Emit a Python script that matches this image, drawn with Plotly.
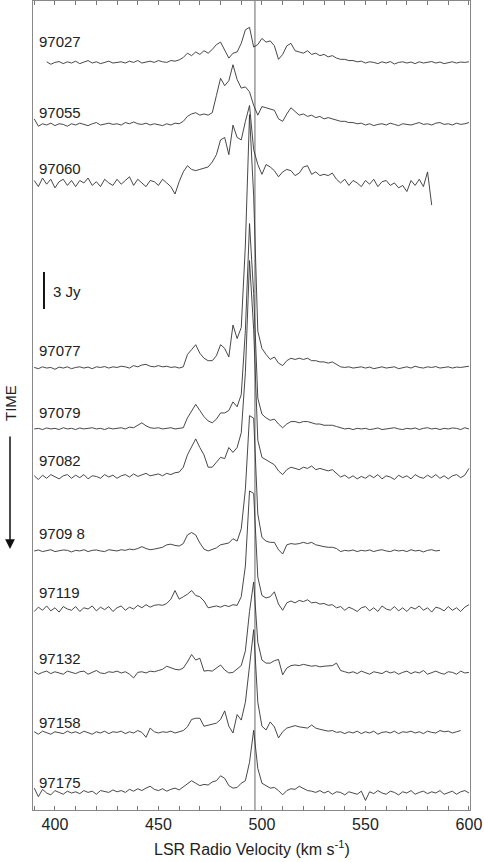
import plotly.graph_objects as go

# Velocity grid (km/s), 2 km/s steps
velocity = list(range(390, 601, 2))

epochs = ["97027", "97055", "97060", "97077", "97079", "97082",
          "9709 8", "97119", "97132", "97158", "97175"]

# Flux density above each spectrum's own baseline (Jy); None = no data
s97027 = [None, None, None, 0.1, -0.1, 0.05, 0.12, -0.05, 0.1, 0.0,
          0.15, -0.05, 0.1, 0.2, 0.0, 0.1, -0.05, 0.05, 0.15, 0.0,
          0.05, 0.1, 0.0, 0.15, 0.05, 0.2, 0.0, 0.1, 0.15, 0.05,
          0.2, 0.1, 0.05, 0.2, 0.15, 0.25, 0.45, 0.8, 0.6, 0.9,
          0.7, 1.0, 0.8, 1.1, 1.5, 1.7, 1.0, 0.4, 0.8, 0.9,
          1.6, 2.7, 2.9, 1.3, 1.5, 2.0, 1.7, 1.8, 1.4, 0.3,
          0.7, 1.4, 1.6, 1.0, 0.9, 0.8, 1.0, 0.7, 0.8, 0.6,
          0.7, 0.5, 0.6, 0.4, 0.3, 0.3, 0.2, 0.2, 0.1, 0.15,
          0.0, 0.1, 0.05, -0.05, 0.1, 0.0, 0.12, -0.08, 0.05, 0.1,
          0.0, 0.08, -0.05, 0.1, 0.0, 0.05, 0.12, 0.0, 0.08, -0.05,
          0.05, 0.1, 0.0, 0.08, 0.05, 0.1]
s97055 = [0.5, -0.1, 0.1, 0.0, 0.15, -0.05, 0.1, 0.05, -0.1, 0.1,
          0.0, 0.15, 0.05, -0.05, 0.1, 0.2, 0.0, 0.1, 0.15, 0.05,
          0.1, 0.0, 0.2, 0.1, 0.25, 0.1, 0.05, 0.15, 0.0, 0.1,
          0.05, -0.05, 0.1, 0.0, 0.15, 0.1, 0.3, 0.7, 0.9, 1.0,
          0.8, 0.9, 0.8, 1.0, 2.4, 3.8, 3.2, 3.6, 4.9, 3.7,
          3.0, 3.1, 2.7, 1.6, 0.8, 1.5, 1.4, 1.3, 1.2, 0.5,
          0.3, 0.9, 1.4, 1.1, 0.8, 0.9, 0.7, 0.8, 0.6, 0.7,
          0.5, 0.6, 0.5, 0.4, 0.3, 0.3, 0.2, 0.2, 0.1, 0.15,
          0.0, 0.1, -0.05, 0.05, 0.1, 0.0, 0.15, 0.05, -0.05, 0.1,
          0.05, 0.0, 0.1, 0.2, 0.05, 0.1, 0.0, 0.15, 0.2, 0.05,
          0.1, 0.0, 0.15, 0.05, 0.1, 0.2]
s97060 = [0.2, -0.3, 0.4, -0.1, 0.3, -0.4, 0.1, 0.3, -0.2, 0.2,
          -0.3, 0.2, 0.0, 0.4, -0.2, 0.1, -0.3, 0.3, 0.0, -0.2,
          0.3, -0.1, 0.2, 0.5, -0.2, 0.3, 0.0, -0.3, 0.2, 0.1,
          -0.2, 0.3, 0.0, -0.3, -0.9, 0.1, 0.9, 1.4, 1.1, 1.0,
          1.1, 1.2, 1.3, 1.7, 2.3, 3.5, 3.7, 2.3, 4.7, 3.7,
          3.5, 5.0, 6.3, 2.7, 1.5, 0.7, 1.5, 1.3, 1.0, 0.5,
          0.9, 1.1, 1.0, 0.6, 0.8, 1.3, 1.4, 0.7, 0.9, 0.6,
          0.7, 0.6, 0.8, 0.3, 0.0, 0.3, -0.2, 0.2, 0.0, -0.3,
          0.2, -0.1, 0.3, -0.3, 0.1, 0.2, -0.2, 0.0, -0.4, -0.2,
          -0.7, 0.2, -0.2, 0.3, -0.3, 0.9, -1.8, None, None, None,
          None, None, None, None, None, None]
s97077 = [0.05, -0.05, 0.1, 0.0, 0.05, -0.1, 0.08, 0.0, 0.1, -0.05,
          0.05, 0.1, 0.0, 0.08, -0.05, 0.1, 0.05, 0.12, 0.0, 0.1,
          0.05, 0.15, 0.1, 0.0, 0.2, 0.1, 0.25, 0.3, 0.15, 0.1,
          0.2, 0.1, 0.15, 0.05, 0.1, 0.0, 0.1, 1.1, 1.5, 1.9,
          1.2, 0.8, 0.6, 0.6, 1.0, 1.9, 1.6, 0.9, 3.5, 2.4,
          3.3, 10.0, 20.6, 14.0, 3.0, 1.6, 1.1, 0.7, 0.9, 0.4,
          0.2, 0.6, 0.8, 0.7, 0.8, 0.7, 0.8, 0.6, 0.6, 0.5,
          0.5, 0.4, 0.5, 0.3, 0.1, 0.05, 0.1, 0.0, 0.05, 0.1,
          0.0, 0.08, -0.05, 0.05, 0.1, 0.0, 0.05, 0.1, -0.05, 0.05,
          0.1, 0.0, 0.15, 0.05, 0.0, 0.1, 0.05, 0.12, 0.0, 0.05,
          0.1, 0.0, 0.08, 0.05, 0.1, 0.15]
s97079 = [0.0, 0.05, -0.05, 0.08, 0.0, 0.05, -0.05, 0.1, 0.0, 0.05,
          -0.05, 0.08, 0.0, 0.05, 0.1, 0.0, 0.05, -0.05, 0.08, 0.0,
          0.05, 0.1, 0.0, 0.15, 0.1, 0.3, 0.5, 0.25, 0.1, 0.05,
          0.1, 0.0, 0.05, 0.1, 0.0, 0.05, 0.1, 0.9, 1.5, 2.0,
          1.5, 1.0, 0.65, 0.5, 0.8, 1.3, 1.3, 1.5, 2.2, 1.8,
          2.8, 8.0, 16.7, 11.0, 2.5, 1.2, 0.9, 0.7, 0.8, 0.4,
          0.1, 0.4, 0.6, 0.6, 0.5, 0.6, 0.6, 0.5, 0.4, 0.4,
          0.3, 0.3, 0.3, 0.2, 0.1, 0.0, 0.05, -0.05, 0.05, 0.0,
          0.05, -0.05, 0.0, 0.08, -0.05, 0.0, 0.05, 0.1, 0.0, -0.05,
          0.05, 0.0, 0.08, -0.05, 0.05, 0.1, 0.0, 0.05, -0.05, 0.05,
          0.0, 0.08, 0.05, -0.05, 0.1, 0.0]
s97082 = [0.1, -0.2, 0.15, -0.1, 0.2, 0.0, -0.15, 0.1, 0.2, -0.1,
          0.15, -0.05, 0.2, -0.15, 0.1, 0.05, -0.1, 0.2, 0.0, 0.15,
          -0.1, 0.1, 0.2, 0.0, 0.25, 0.05, 0.15, 0.3, 0.1, 0.2,
          0.25, 0.1, 0.3, 0.2, 0.35, 0.4, 0.8, 1.8, 2.4, 3.1,
          2.4, 1.8, 0.8, 0.8, 1.2, 1.6, 1.5, 2.4, 2.0, 2.4,
          3.6, 8.5, 17.6, 12.0, 3.0, 1.6, 1.4, 1.2, 1.0, 0.5,
          0.2, 0.6, 0.8, 0.7, 0.6, 0.8, 0.7, 0.9, 0.6, 0.7,
          0.6, 0.5, 0.6, 0.3, 0.0, 0.15, -0.1, 0.1, -0.15, 0.05,
          -0.1, 0.15, -0.05, 0.2, -0.15, 0.1, 0.0, -0.2, 0.15, -0.05,
          0.1, -0.15, 0.2, 0.0, -0.1, 0.15, -0.05, 0.2, -0.1, 0.1,
          -0.15, 0.1, 0.2, -0.05, 0.15, 0.7]
s97098 = [0.0, 0.08, -0.05, 0.05, 0.1, -0.05, 0.0, 0.08, 0.05, -0.08,
          0.05, 0.0, 0.1, -0.05, 0.05, 0.08, 0.0, -0.05, 0.1, 0.05,
          0.0, 0.1, 0.05, 0.15, 0.1, 0.2, 0.35, 0.2, 0.1, 0.15,
          0.2, 0.3, 0.5, 0.55, 0.45, 0.4, 0.6, 1.3, 1.5, 1.3,
          0.65, 0.15, 0.0, 0.1, 0.25, 0.5, 0.55, 0.65, 1.0, 0.8,
          1.8, 5.0, 11.0, 10.8, 3.0, 1.1, 0.8, 0.7, 0.7, 0.1,
          -0.25, 0.5, 0.6, 0.55, 0.6, 0.7, 0.6, 0.7, 0.5, 0.4,
          0.35, 0.3, 0.3, 0.2, -0.05, 0.05, 0.0, 0.08, -0.05, 0.05,
          0.0, 0.08, -0.05, 0.05, 0.1, 0.0, -0.05, 0.08, 0.0, 0.05,
          -0.05, 0.1, 0.0, 0.05, -0.08, 0.05, 0.1, 0.0, 0.05, None,
          None, None, None, None, None, None]
s97119 = [-0.2, 0.15, -0.1, 0.25, -0.15, 0.1, -0.25, 0.2, 0.0, -0.1,
          0.2, -0.2, 0.1, 0.0, 0.25, -0.15, 0.15, -0.05, 0.2, -0.2,
          0.1, 0.25, -0.1, 0.15, 0.0, 0.3, 0.1, 0.35, 0.15, 0.3,
          0.35, 0.3, 0.45, 0.8, 1.5, 0.8, 1.0, 1.2, 1.5, 1.1,
          1.0, 0.65, 0.1, 0.2, 0.25, 0.15, 0.3, 0.2, 0.35, 0.3,
          1.0, 3.5, 9.6, 9.4, 2.6, 1.1, 0.9, 1.0, 1.4, 0.4,
          -0.1, 0.5, 0.65, 0.5, 0.7, 0.6, 0.75, 0.5, 0.55, 0.4,
          0.45, 0.3, 0.35, 0.1, 0.2, -0.1, 0.15, 0.0, -0.2, 0.1,
          0.2, -0.15, 0.1, -0.2, 0.25, 0.0, -0.1, 0.2, -0.15, 0.1,
          -0.2, 0.15, 0.0, 0.25, -0.1, 0.1, -0.25, 0.15, 0.05, -0.15,
          0.2, -0.1, 0.1, -0.2, 0.15, 0.35]
s97132 = [0.1, -0.1, 0.05, 0.15, -0.05, 0.1, 0.0, -0.1, 0.15, 0.05,
          -0.05, 0.1, 0.15, -0.1, 0.05, 0.2, 0.0, -0.05, 0.1, 0.05,
          0.15, 0.0, 0.1, -0.1, -0.4, 0.05, 0.1, 0.0, 0.15, 0.1,
          0.2, 0.3, 0.55, 0.4, 0.3, 0.25, 0.4, 0.9, 1.5, 1.05,
          1.2, 0.15, 0.2, 0.15, 0.4, 0.65, 0.25, 0.0, 0.05, 0.3,
          0.6, 1.8, 5.0, 7.4, 2.5, 1.05, 0.8, 0.8, 1.0, 1.1,
          -0.15, 0.4, 0.6, 0.65, 0.6, 0.7, 0.6, 0.55, 0.6, 0.5,
          0.55, 0.6, 0.6, 0.8, 0.2, 0.1, 0.0, 0.1, -0.05, 0.15,
          0.0, -0.1, 0.1, 0.05, -0.05, 0.15, 0.0, 0.1, -0.1, 0.05,
          0.15, -0.05, 0.1, 0.0, 0.2, -0.1, 0.05, 0.15, 0.0, -0.1,
          0.1, 0.05, -0.1, 0.15, 0.0, 0.05]
s97158 = [0.1, -0.1, 0.15, 0.0, -0.1, 0.1, 0.05, -0.05, 0.15, 0.0,
          0.1, -0.05, 0.15, 0.05, -0.1, 0.1, 0.0, 0.15, -0.05, 0.1,
          0.05, 0.15, -0.05, 0.1, 0.0, 0.2, 0.05, -0.35, 0.4, 0.1,
          0.0, 0.1, 0.05, 0.15, 0.0, 0.1, 0.2, 0.5, 1.1, 1.2,
          1.2, 0.55, 0.65, 0.7, 0.8, 1.1, 1.8, 0.55, 0.0, 1.5,
          1.05, 2.5, 5.5, 8.4, 2.5, 0.55, 0.25, 0.9, 0.5, -0.4,
          0.1, 0.4, 0.5, 0.6, 0.5, 0.45, 0.4, 0.65, 0.4, 0.3,
          0.25, 0.15, 0.2, 0.05, 0.1, -0.05, 0.1, 0.0, 0.15, -0.05,
          0.1, 0.0, 0.15, -0.1, 0.05, 0.1, 0.0, 0.15, -0.05, 0.1,
          0.05, 0.15, 0.0, 0.1, -0.05, 0.15, 0.05, 0.0, 0.2, 0.1,
          0.15, 0.0, 0.1, 0.2, None, None]
s97175 = [0.4, -0.3, 0.3, 0.0, -0.15, 0.2, 0.05, -0.1, 0.15, 0.0,
          0.1, -0.05, 0.2, 0.05, 0.15, -0.1, 0.2, 0.1, 0.05, 0.25,
          0.1, 0.2, 0.05, 0.3, 0.15, 0.35, 0.2, 0.4, 0.55, 0.3,
          0.2, 0.35, 0.15, 0.3, 0.4, 0.25, 0.5, 0.7, 1.0, 0.8,
          0.6, 0.7, 0.65, 0.9, 1.0, 1.4, 1.2, 0.6, 0.4, 0.45,
          0.8, 1.0, 2.5, 5.1, 2.0, 0.8, 0.6, 0.4, 0.45, 0.2,
          -0.15, 0.2, 0.35, 0.3, 0.55, 0.35, 0.2, 0.15, 0.05, 0.2,
          0.0, 0.15, -0.1, 0.1, 0.05, -0.15, 0.1, 0.0, -0.1, 0.15,
          -0.6, 0.1, -0.05, 0.2, 0.0, -0.1, 0.15, 0.05, -0.15, 0.1,
          0.0, 0.2, -0.1, 0.05, 0.15, -0.05, 0.1, 0.0, 0.2, -0.1,
          0.05, 0.15, -0.1, 0.1, 0.2, 0.0]

spectra = [s97027, s97055, s97060, s97077, s97079, s97082,
           s97098, s97119, s97132, s97158, s97175]

# Vertical stacking offset of each spectrum (Jy)
offsets = [60.73, 55.69, 50.98, 35.93, 30.98, 27.07,
           21.06, 16.34, 11.14, 6.26, 1.38]

systemic_velocity = 496.6
x_ticks = [400, 450, 500, 550, 600]

# ---- layout geometry (pixels) ----
W, H = 484, 862
L, R, T, B = 33, 14, 1, 52
plot_w = W - L - R
plot_h = H - T - B
px_per_jy = 12.3
y_top = plot_h / px_per_jy
x_range = [389.4, 600.5]

def paper_y(py):
    return (H - B - py) / plot_h

def paper_x(px):
    return (px - L) / plot_w

label_py = [42, 112, 168, 350, 412, 460, 533, 592, 658, 722, 782]

fig = go.Figure()
for name, vals, off in zip(epochs, spectra, offsets):
    fig.add_trace(go.Scatter(
        x=velocity,
        y=[None if v is None else v + off for v in vals],
        mode="lines", name=name,
        line=dict(color="#333333", width=0.9),
        hoverinfo="skip", showlegend=False))
# empty trace so the mirrored top tick axis gets drawn
fig.add_trace(go.Scatter(x=[None], y=[None], xaxis="x2", mode="lines",
                         showlegend=False, hoverinfo="skip"))

font = "Liberation Sans, Arial, sans-serif"
annotations = []
for name, py in zip(epochs, label_py):
    annotations.append(dict(xref="paper", yref="paper", x=paper_x(37), y=paper_y(py),
                            text=name, showarrow=False, xanchor="left", yanchor="middle",
                            font=dict(family=font, size=15, color="#222")))
# scale bar label
annotations.append(dict(xref="paper", yref="paper", x=paper_x(51), y=paper_y(291),
                        text="3 Jy", showarrow=False, xanchor="left", yanchor="middle",
                        font=dict(family=font, size=15, color="#222")))
# TIME label and arrow
annotations.append(dict(xref="paper", yref="paper", x=paper_x(10), y=paper_y(403),
                        text="TIME", textangle=-90, showarrow=False,
                        xanchor="center", yanchor="middle",
                        font=dict(family=font, size=15, color="#222")))
annotations.append(dict(xref="paper", yref="paper", x=paper_x(10), y=paper_y(549),
                        ax=0, ay=-114, text="", showarrow=True,
                        arrowhead=2, arrowsize=1.3, arrowwidth=1.5, arrowcolor="#111"))
# axis title
annotations.append(dict(xref="paper", yref="paper", x=0.5, y=paper_y(848),
                        text="LSR Radio Velocity (km s<sup>-1</sup>)", showarrow=False,
                        xanchor="center", yanchor="middle",
                        font=dict(family=font, size=16, color="#222")))

shapes = [
    dict(type="line", xref="x", yref="paper", x0=systemic_velocity, x1=systemic_velocity,
         y0=0, y1=1, line=dict(color="#999999", width=1.5), layer="below"),
    dict(type="line", xref="x", yref="y", x0=394.7, x1=394.7,
         y0=(H - B - 309) / px_per_jy, y1=(H - B - 272) / px_per_jy,
         line=dict(color="#111", width=2)),
]

fig.update_layout(
    width=W, height=H,
    margin=dict(l=L, r=R, t=T, b=B),
    paper_bgcolor="white", plot_bgcolor="white",
    annotations=annotations, shapes=shapes,
    xaxis=dict(range=x_range, tickvals=x_ticks, ticks="inside", ticklen=4,
               tickcolor="#777", showline=True, linecolor="#888", linewidth=1,
               mirror="allticks", showgrid=False, zeroline=False,
               tickfont=dict(family=font, size=16, color="#222"),
               minor=dict(dtick=10, tick0=400, ticks="inside", ticklen=4, tickcolor="#777", showgrid=False)),
    xaxis2=dict(range=x_range, overlaying="x", side="top", anchor="y",
                tick0=400, dtick=10, ticks="inside", ticklen=4, tickcolor="#777",
                showticklabels=False, showgrid=False, zeroline=False, showline=False),
    yaxis=dict(range=[0, y_top], showticklabels=False, ticks="", showline=True,
               linecolor="#888", linewidth=1, mirror=True, showgrid=False, zeroline=False),
)

fig.write_html("out.html",
               config={"displayModeBar": False},
               post_script="document.body.style.margin='0px';document.body.style.overflow='hidden';")
